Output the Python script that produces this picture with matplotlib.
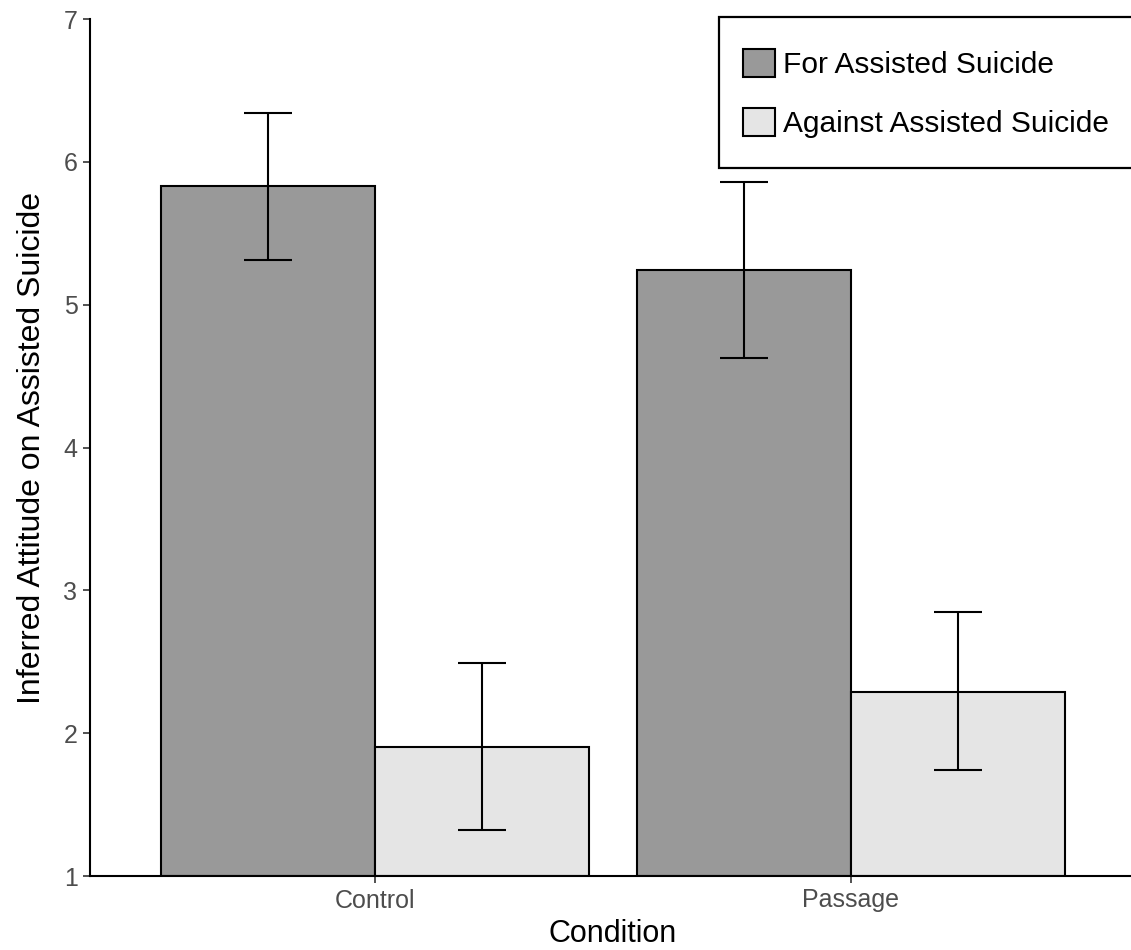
import matplotlib
matplotlib.use("Agg")
import matplotlib.pyplot as plt
import numpy as np
from matplotlib.patches import Patch, Rectangle

plt.rcParams['font.family'] = ['Liberation Sans', 'DejaVu Sans']

conditions = ["Control", "Passage"]
groups = ["For Assisted Suicide", "Against Assisted Suicide"]
means_for = [5.83, 5.24]
lower_for = [5.31, 4.63]
upper_for = [6.34, 5.86]
means_against = [1.90, 2.29]
lower_against = [1.32, 1.74]
upper_against = [2.49, 2.85]
colors = ["#999999", "#E5E5E5"]

W, H = 1131, 950
fig = plt.figure(figsize=(W/100, H/100), dpi=100)
ax = fig.add_axes([90/W, 1-876/H, (1136-90)/W, (876-19)/H])

x = np.arange(1, len(conditions)+1)
w = 0.45
series = [(means_for, lower_for, upper_for), (means_against, lower_against, upper_against)]
for i, (m, lo, hi) in enumerate(series):
    pos = x + (i - 0.5) * w
    m = np.array(m); lo = np.array(lo); hi = np.array(hi)
    ax.bar(pos, m - 1, bottom=1, width=w, color=colors[i], edgecolor="black",
           linewidth=1.5, zorder=2)
    ax.errorbar(pos, m, yerr=[m - lo, hi - m], fmt="none", ecolor="black",
                elinewidth=1.5, capsize=17.3, capthick=1.5, zorder=3)

ax.set_xlim(0.4, 2.6)
ax.set_ylim(1, 7)
ax.set_xticks(x)
ax.set_xticklabels(conditions)
ax.set_yticks(range(1, 8))
for s in ["top", "right"]:
    ax.spines[s].set_visible(False)
for s in ["left", "bottom"]:
    ax.spines[s].set_linewidth(1.5)
    ax.spines[s].set_color("black")
ax.tick_params(axis="both", length=5, width=1.2, color="#333333",
               labelsize=18, labelcolor="#4D4D4D", pad=4)
ax.set_xlabel("Condition", fontsize=22, color="black", labelpad=5)
ax.set_ylabel("Inferred Attitude on Assisted Suicide", fontsize=23, color="black", labelpad=12)

# legend frame
fig.patches.append(Rectangle((719/W, 1-168/H), (1200-719)/W, (168-17)/H,
                             transform=fig.transFigure, facecolor="white",
                             edgecolor="black", linewidth=1.6, zorder=4))
handles = [Patch(facecolor=c, edgecolor="black", linewidth=1.5) for c in colors]
leg = fig.legend(handles, groups, loc="upper left",
                 bbox_to_anchor=(743/W, 1-49/H), frameon=False,
                 fontsize=21.5, handlelength=1.07, handleheight=1.06, handletextpad=0.27,
                 labelspacing=0.97, borderpad=0, borderaxespad=0)
leg.set_zorder(5)

fig.savefig("out.png", dpi=100)
